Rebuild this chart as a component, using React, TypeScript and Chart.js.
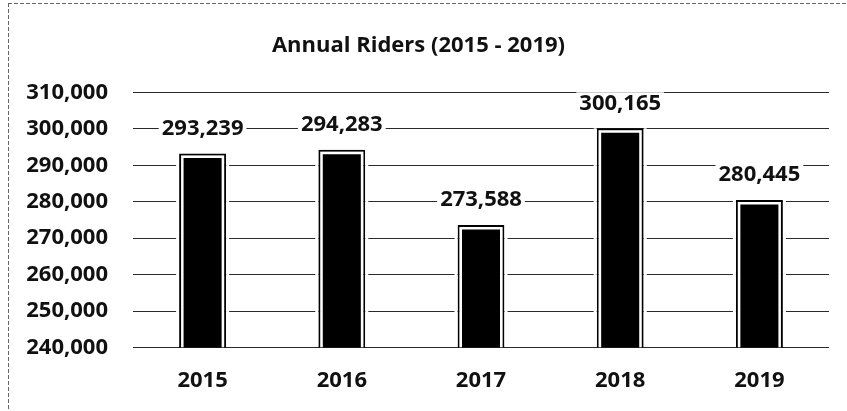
import React, { useEffect, useRef } from "react";
import { Chart, registerables } from "chart.js";

Chart.register(...registerables);

const categories: string[] = ["2015", "2016", "2017", "2018", "2019"];
const riders: number[] = [293239, 294283, 273588, 300165, 280445];
const yMin = 240000;
const yMax = 310000;
const yStep = 10000;
const titleText = "Annual Riders (2015 - 2019)";

const FONT = "'Open Sans', 'Noto Sans', sans-serif";

const fmt = (v: number) => Number(v).toLocaleString("en-US");

const framePlugin = {
  id: "frame",
  beforeDraw(chart: any) {
    const ctx = chart.ctx;
    ctx.save();
    ctx.strokeStyle = "#666";
    ctx.lineWidth = 1;
    ctx.setLineDash([4, 2]);
    ctx.beginPath();
    ctx.moveTo(8, 3.5);
    ctx.lineTo(847, 3.5);
    ctx.moveTo(8.5, 3);
    ctx.lineTo(8.5, 411);
    ctx.stroke();
    ctx.restore();
  },
};

const barDecor = {
  id: "barDecor",
  afterDatasetsDraw(chart: any) {
    const ctx = chart.ctx;
    const meta = chart.getDatasetMeta(0);
    const area = chart.chartArea;
    ctx.save();
    ctx.beginPath();
    ctx.rect(area.left, area.top - 60, area.right - area.left, area.bottom - area.top + 60);
    ctx.clip();
    meta.data.forEach((bar: any, i: number) => {
      const { x, y, base, width } = bar.getProps(["x", "y", "base", "width"], true);
      const l = x - width / 2;
      const r = x + width / 2;
      const b = Math.min(base, area.bottom);
      ctx.strokeStyle = "#fff";
      ctx.lineWidth = 3;
      ctx.beginPath();
      ctx.moveTo(l - 1.5, y);
      ctx.lineTo(l - 1.5, b - 1);
      ctx.moveTo(r + 1.5, y);
      ctx.lineTo(r + 1.5, b - 1);
      ctx.stroke();
      ctx.lineWidth = 2.5;
      ctx.beginPath();
      ctx.moveTo(l + 3.25, b);
      ctx.lineTo(l + 3.25, y + 3.25);
      ctx.lineTo(r - 3.25, y + 3.25);
      ctx.lineTo(r - 3.25, b);
      ctx.stroke();

      const text = fmt(riders[i]);
      ctx.font = `bold 22px ${FONT}`;
      const tw = ctx.measureText(text).width;
      const cy = y - 25;
      ctx.fillStyle = "#fff";
      ctx.fillRect(x - tw / 2 - 3, cy - 11, tw + 6, 22);
      ctx.fillStyle = "#111";
      ctx.textAlign = "center";
      ctx.textBaseline = "middle";
      ctx.fillText(text, x, cy);
    });
    ctx.restore();
  },
};

export default function App() {
  const ref = useRef<HTMLCanvasElement | null>(null);

  useEffect(() => {
    if (!ref.current) return;
    const chart = new Chart(ref.current, {
      type: "bar",
      data: {
        labels: categories,
        datasets: [
          {
            label: "Riders",
            data: riders,
            backgroundColor: "#000",
            borderColor: "#000",
            borderWidth: 2,
            categoryPercentage: 1,
            barPercentage: 0.338,
          },
        ],
      },
      options: {
        responsive: false,
        animation: false,
        layout: { padding: { left: 8, right: 18, bottom: 0, top: 0 } },
        plugins: {
          legend: { display: false },
          tooltip: { enabled: false },
          title: {
            display: true,
            text: titleText,
            color: "#111",
            font: { family: FONT, size: 22, weight: "bold", lineHeight: 1.2 },
            padding: { top: 33, bottom: 33 },
          },
        },
        scales: {
          x: {
            grid: { display: false, drawTicks: false },
            border: { display: false },
            ticks: {
              z: 1,
              color: "#111",
              font: { family: FONT, size: 22, weight: "bold", lineHeight: 1.2 },
              padding: 20,
              autoSkip: false,
              maxRotation: 0,
              minRotation: 0,
            },
            afterFit: (s: any) => {
              s.height = 63.5;
            },
          },
          y: {
            min: yMin,
            max: yMax,
            grid: { color: "#2a2a2a", lineWidth: 1, drawTicks: false },
            border: { display: false },
            ticks: {
              stepSize: yStep,
              color: "#111",
              font: { family: FONT, size: 22, weight: "bold" },
              padding: 25,
              callback: (v: any) => fmt(v),
            },
            afterFit: (s: any) => {
              s.width = 125;
            },
          },
        },
      },
      plugins: [framePlugin, barDecor],
    });
    return () => chart.destroy();
  }, []);

  return (
    <div style={{ position: "absolute", left: 0, top: 0, width: 847, height: 411, background: "#fff" }}>
      <canvas ref={ref} width={847} height={411} style={{ display: "block" }} />
    </div>
  );
}
